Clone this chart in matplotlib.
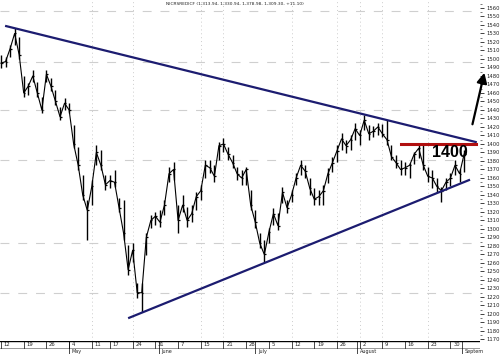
import matplotlib
matplotlib.use("Agg")
import matplotlib.pyplot as plt
from matplotlib.ticker import MultipleLocator
import numpy as np

# ---------------- data ----------------
highs = [1505, 1502, 1516, 1536, 1526, 1480, 1472, 1487, 1473, 1455,
         1487, 1478, 1464, 1444, 1454, 1448, 1422, 1396, 1363, 1334,
         1358, 1399, 1393, 1363, 1363, 1369, 1336, 1334, 1281, 1284,
         1236, 1237, 1295, 1316, 1320, 1322, 1334, 1373, 1379, 1328,
         1340, 1326, 1328, 1344, 1352, 1381, 1381, 1375, 1402, 1407,
         1396, 1387, 1373, 1369, 1373, 1346, 1322, 1295, 1287, 1301,
         1325, 1319, 1349, 1334, 1346, 1366, 1381, 1375, 1360, 1348,
         1346, 1352, 1372, 1385, 1399, 1413, 1405, 1411, 1425, 1416,
         1434, 1422, 1421, 1425, 1424, 1428, 1399, 1387, 1381, 1379,
         1378, 1391, 1399, 1401, 1373, 1369, 1360, 1349, 1360, 1366,
         1381, 1371, 1393]
lows = [1489, 1491, 1502, 1516, 1500, 1455, 1458, 1473, 1455, 1436,
        1473, 1462, 1446, 1428, 1440, 1436, 1395, 1369, 1334, 1287,
        1328, 1375, 1369, 1346, 1348, 1349, 1320, 1287, 1246, 1261,
        1219, 1202, 1269, 1301, 1305, 1302, 1316, 1355, 1358, 1295,
        1320, 1302, 1308, 1322, 1334, 1360, 1366, 1355, 1381, 1391,
        1381, 1372, 1358, 1352, 1352, 1322, 1301, 1278, 1261, 1284,
        1305, 1299, 1331, 1319, 1332, 1352, 1364, 1360, 1340, 1328,
        1328, 1328, 1354, 1367, 1379, 1393, 1389, 1393, 1405, 1399,
        1416, 1405, 1408, 1411, 1408, 1399, 1381, 1372, 1364, 1364,
        1360, 1376, 1384, 1369, 1355, 1348, 1344, 1332, 1346, 1351,
        1364, 1355, 1367]
closes = [1495, 1497, 1512, 1530, 1505, 1460, 1468, 1480, 1460, 1440,
          1482, 1468, 1450, 1432, 1448, 1440, 1400, 1375, 1340, 1322,
          1350, 1390, 1375, 1352, 1357, 1355, 1325, 1295, 1252, 1275,
          1225, 1225, 1290, 1310, 1315, 1308, 1328, 1365, 1370, 1310,
          1328, 1310, 1318, 1338, 1345, 1375, 1372, 1362, 1398, 1400,
          1388, 1378, 1365, 1360, 1370, 1328, 1308, 1283, 1270, 1296,
          1318, 1304, 1343, 1325, 1340, 1360, 1375, 1368, 1348, 1335,
          1338, 1345, 1365, 1378, 1392, 1406, 1398, 1405, 1418, 1410,
          1428, 1412, 1415, 1420, 1412, 1405, 1385, 1378, 1370, 1372,
          1375, 1388, 1395, 1375, 1362, 1360, 1350, 1345, 1355, 1360,
          1375, 1365, 1388]

week_pos = [0, 5, 10, 15, 20, 24, 29, 34, 39, 44, 49, 54, 59, 64, 69, 74, 79, 84, 89, 94, 99]
week_labels = ["12", "19", "26", "4", "11", "17", "24", "31", "7", "15", "21",
               "28", "5", "12", "19", "26", "2", "9", "16", "23", "30"]
month_pos = [15, 34.8, 56, 78.4, 101.5]
month_labels = ["May", "June", "July", "August", "Septem"]

# trend lines / annotations (day index, price)
upper_line = ([0.9, 104.8], [1539, 1402])
lower_line = ([28.0, 103.3], [1195, 1358])
resistance = 1400
resistance_span = [88.1, 104.6]
arrow_from = (103.7, 1420)
arrow_to = (106.6, 1487)

hgrid = [1556, 1497, 1440, 1381, 1284, 1225]
vgrid = [20, 29, 44, 49, 64, 74, 79, 84, 94]

title = "NICRSREDICF (1,313.94, 1,330.94, 1,378.98, 1,309.30, +11.10)"

# ---------------- figure ----------------
W, H = 500, 354
fig = plt.figure(figsize=(W / 100, H / 100), dpi=100)
fig.patch.set_facecolor("white")

ax_right = 480 / W
ax_bottom = (H - 341) / H
ax = fig.add_axes([0, ax_bottom, ax_right, 1 - ax_bottom])
xlim = (-0.22, 105.5)
ylim = (1168.2, 1569.4)
ax.set_xlim(*xlim)
ax.set_ylim(*ylim)
for s in ax.spines.values():
    s.set_visible(False)

# grid
for g in hgrid:
    ax.axhline(g, color="#cfcfcf", lw=0.8, ls=(0, (8, 8)), zorder=0)
for g in vgrid:
    ax.axvline(g, color="#cccccc", lw=0.7, ls=(0, (1, 3)), zorder=0)

# price bars
t = np.arange(len(highs))
ax.plot(t, closes, color="black", lw=0.8, zorder=3)
ax.vlines(t, lows, highs, color="black", lw=1.0, zorder=3)
ax.hlines(closes, t, t + 0.35, color="black", lw=0.9, zorder=3)

# trend lines
ax.plot(*upper_line, color="#1c1c70", lw=1.6, zorder=4, solid_capstyle="butt")
ax.plot(*lower_line, color="#1c1c70", lw=1.6, zorder=4, solid_capstyle="butt")
ax.plot(resistance_span, [resistance, resistance], color="#b01010", lw=2.2, zorder=4)
ax.text(94.9, 1390, "1400", fontsize=11.5, fontweight="bold",
        family="Liberation Sans", color="black", ha="left", va="center", zorder=5)
ax.annotate("", xy=arrow_to, xytext=arrow_from,
            arrowprops=dict(arrowstyle="-|>,head_length=0.6,head_width=0.3",
                            color="black", lw=1.6),
            annotation_clip=False, zorder=6)

# y axis on right
ax.yaxis.tick_right()
ax.yaxis.set_minor_locator(MultipleLocator(5))
ax.set_yticks([v for v in range(1170, 1561, 10)])
ax.set_yticklabels([str(v) for v in range(1170, 1561, 10)])
ax.tick_params(axis="y", which="major", length=3, width=0.6, labelsize=3.8,
               pad=1.5, colors="#222222")
ax.tick_params(axis="y", which="minor", length=1.5, width=0.5, colors="#444444")
ax.set_xticks([])

ax.text(0.345, 0.994, title, transform=ax.transAxes, fontsize=3.2,
        ha="left", va="top", color="#222222")

# bottom date band
axb = fig.add_axes([0, 0, ax_right, ax_bottom])
axb.set_xlim(*xlim)
axb.set_ylim(0, 13)
axb.axis("off")
axb.axhline(12.6, color="black", lw=1.0)
axb.axhline(6.3, color="#888888", lw=0.6)
for p, lab in zip(week_pos, week_labels):
    axb.plot([p, p], [6.3, 12.6], color="black", lw=0.5)
    axb.text(p + 0.6, 9.4, lab, fontsize=3.8, ha="left", va="center", color="#222222")
for p, lab in zip(month_pos, month_labels):
    axb.plot([p, p], [0, 12.6], color="black", lw=0.5)
    axb.text(p + 0.6, 3.0, lab, fontsize=3.5, ha="left", va="center", color="#222222")

fig.savefig("out.png", dpi=100, facecolor="white")
